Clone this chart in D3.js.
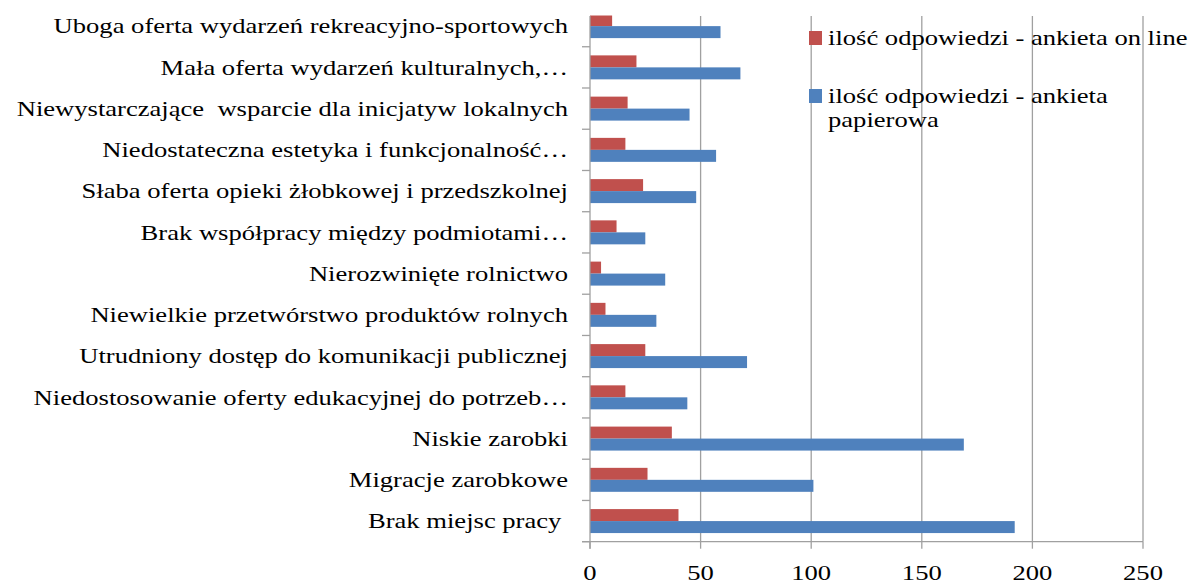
<!DOCTYPE html>
<html>
<head>
<meta charset="utf-8">
<script src="https://cdn.jsdelivr.net/npm/d3@7"></script>
<style>
    body { margin: 0; background: #fff; }
    svg { display: block; }
</style>
</head>
<body>
<div id="chart"></div>
<script>
// 1: DATA (top to bottom as in the picture)
const categories = [
    "Uboga oferta wydarzeń rekreacyjno-sportowych",
    "Mała oferta wydarzeń kulturalnych,…",
    "Niewystarczające  wsparcie dla inicjatyw lokalnych",
    "Niedostateczna estetyka i funkcjonalność…",
    "Słaba oferta opieki żłobkowej i przedszkolnej",
    "Brak współpracy między podmiotami…",
    "Nierozwinięte rolnictwo",
    "Niewielkie przetwórstwo produktów rolnych",
    "Utrudniony dostęp do komunikacji publicznej",
    "Niedostosowanie oferty edukacyjnej do potrzeb…",
    "Niskie zarobki",
    "Migracje zarobkowe",
    "Brak miejsc pracy "
];
const onlineValues = [10, 21, 17, 16, 24, 12, 5, 7, 25, 16, 37, 26, 40];
const paperValues  = [59, 68, 45, 57, 48, 25, 34, 30, 71, 44, 169, 101, 192];
const xTicks = [0, 50, 100, 150, 200, 250];

const seriesNames = ["ilość odpowiedzi - ankieta on line", "ilość odpowiedzi - ankieta papierowa"];
const seriesColors = ["#C0504D", "#4F81BD"];

// 2: GLOBAL SIZES
const svgWidth = 1192, svgHeight = 583;
const margin = { top: 5.5, left: 590 };
const width = 553;
const height = 536.2;
const stretch = 1.33; // text in the picture is horizontally widened
const gridColor = "#a0a0a0";
const fontFamily = "'Liberation Serif', 'Times New Roman', 'DejaVu Serif', serif";

const svg = d3.select("#chart")
    .append("svg")
    .attr("width", svgWidth)
    .attr("height", svgHeight)
    .attr("font-family", fontFamily)
    .style("font-family", fontFamily);

const g = svg.append("g")
    .attr("transform", `translate(${margin.left},${margin.top})`);

// 3: SCALES
const xScale = d3.scaleLinear()
    .domain([0, 250])
    .range([0, width]);

const yScale = d3.scaleBand()
    .domain(categories)
    .range([0, height])
    .padding(0);

const seriesScale = d3.scaleBand()
    .domain([0, 1])
    .range([0, yScale.bandwidth()])
    .paddingInner(0)
    .paddingOuter(0.72);

const gridTop = 16 - margin.top;

// 4: GRIDLINES
g.selectAll(".grid")
    .data(xTicks.slice(1))
    .enter()
    .append("line")
    .attr("x1", d => xScale(d))
    .attr("x2", d => xScale(d))
    .attr("y1", gridTop)
    .attr("y2", height)
    .attr("stroke", gridColor)
    .attr("stroke-width", 1.3);

// 5: BARS
const rows = categories.map((c, i) => ({ category: c, values: [onlineValues[i], paperValues[i]] }));

const rowG = g.selectAll(".row")
    .data(rows)
    .enter()
    .append("g")
    .attr("transform", d => `translate(0,${yScale(d.category)})`);

rowG.selectAll("rect")
    .data(d => d.values.map((v, s) => ({ v, s })))
    .enter()
    .append("rect")
    .attr("x", 0)
    .attr("y", d => seriesScale(d.s))
    .attr("width", d => xScale(d.v))
    .attr("height", seriesScale.bandwidth())
    .attr("fill", d => seriesColors[d.s]);

// crop at the top as in the picture
svg.append("rect")
    .attr("x", 0)
    .attr("y", 0)
    .attr("width", svgWidth)
    .attr("height", 15.5)
    .attr("fill", "#fff");

// 6: AXES
// left axis line + ticks at band boundaries
g.append("line")
    .attr("x1", 0).attr("x2", 0)
    .attr("y1", gridTop).attr("y2", height + 7)
    .attr("stroke", gridColor)
    .attr("stroke-width", 1.3);

g.selectAll(".ytick")
    .data(categories.slice(1).map(c => yScale(c)).concat([height]))
    .enter()
    .append("line")
    .attr("x1", -8).attr("x2", 0)
    .attr("y1", d => d).attr("y2", d => d)
    .attr("stroke", gridColor)
    .attr("stroke-width", 1.3);

// bottom axis
g.append("line")
    .attr("x1", -8).attr("x2", width)
    .attr("y1", height).attr("y2", height)
    .attr("stroke", gridColor)
    .attr("stroke-width", 1.3);

g.selectAll(".xtick")
    .data(xTicks)
    .enter()
    .append("line")
    .attr("x1", d => xScale(d)).attr("x2", d => xScale(d))
    .attr("y1", height).attr("y2", height + 7)
    .attr("stroke", gridColor)
    .attr("stroke-width", 1.3);

g.selectAll(".xlabel")
    .data(xTicks)
    .enter()
    .append("text")
    .attr("transform", d => `translate(${xScale(d)},${height + 38}) scale(${stretch},1)`)
    .attr("text-anchor", "middle")
    .attr("font-size", 20)
    .text(d => d);

// category labels
g.selectAll(".ylabel")
    .data(categories)
    .enter()
    .append("text")
    .attr("transform", d => `translate(-22,${yScale(d) + yScale.bandwidth() / 2 + 7.2}) scale(${stretch},1)`)
    .attr("text-anchor", "end")
    .attr("font-size", 20)
    .style("white-space", "pre")
    .text(d => d);

// 7: LEGEND
const legend = svg.append("g");

legend.append("rect")
    .attr("x", 809).attr("y", 31)
    .attr("width", 13).attr("height", 14)
    .attr("fill", seriesColors[0]);

legend.append("text")
    .attr("transform", `translate(828,45) scale(${stretch},1)`)
    .attr("font-size", 20)
    .text(seriesNames[0]);

legend.append("rect")
    .attr("x", 809).attr("y", 89)
    .attr("width", 13).attr("height", 14)
    .attr("fill", seriesColors[1]);

legend.append("text")
    .attr("transform", `translate(828,103) scale(${stretch},1)`)
    .attr("font-size", 20)
    .text("ilość odpowiedzi - ankieta");

legend.append("text")
    .attr("transform", `translate(828,127) scale(${stretch},1)`)
    .attr("font-size", 20)
    .text("papierowa");
</script>
</body>
</html>
